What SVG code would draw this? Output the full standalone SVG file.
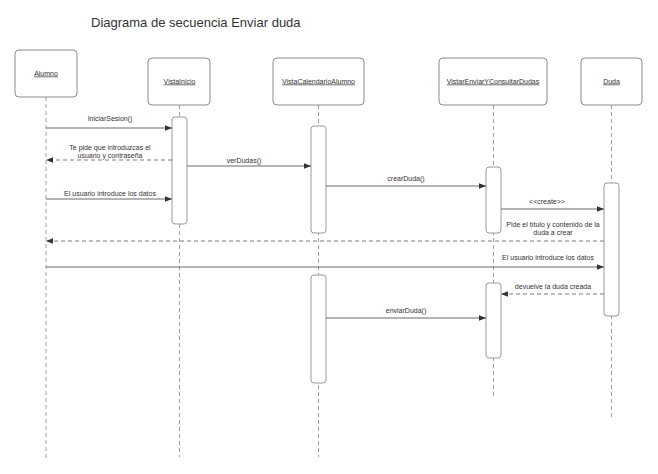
<svg xmlns="http://www.w3.org/2000/svg" width="658" height="474" viewBox="0 0 658 474">
<style>
.bg{fill:#fff}
.box{fill:#fff;stroke:#8c8c8c;stroke-width:1}
.act{fill:#fff;stroke:#9a9a9a;stroke-width:1}
.life{stroke:#a0a0a0;stroke-width:1;stroke-dasharray:4 3;fill:none}
.msg{stroke:#6a6a6a;stroke-width:1;fill:none}
.ret{stroke:#7a7a7a;stroke-width:1;stroke-dasharray:4 3;fill:none}
.lbl{font-family:"Liberation Sans",Arial,sans-serif;font-size:7px;fill:#333;text-anchor:middle}
.name{font-family:"Liberation Sans",Arial,sans-serif;font-size:7px;fill:#333;text-anchor:middle;text-decoration:underline}
.title{font-family:"Liberation Sans",Arial,sans-serif;font-size:13px;fill:#333}
</style>
<defs>
<marker id="ah" viewBox="0 0 10 10" refX="10" refY="5" markerWidth="7" markerHeight="7" markerUnits="userSpaceOnUse" orient="auto">
<path d="M0,1 L10,5 L0,9 z" fill="#333"/>
</marker>
</defs>
<rect class="bg" x="0" y="0" width="658" height="474"/>
<text class="title" x="91" y="27">Diagrama de secuencia Enviar duda</text>

<g id="lifelines">
<line class="life" x1="46" y1="97" x2="46" y2="458"/>
<line class="life" x1="179.5" y1="105" x2="179.5" y2="457"/>
<line class="life" x1="318.5" y1="105" x2="318.5" y2="457"/>
<line class="life" x1="493.5" y1="105" x2="493.5" y2="399"/>
<line class="life" x1="611.5" y1="105" x2="611.5" y2="417"/>
</g>

<g id="Alumno">
<rect class="box" x="15" y="50" width="62" height="47" rx="4"/>
<text class="name" x="46" y="75.5">Alumno</text>
</g>
<g id="VistaInicio">
<rect class="box" x="148" y="58" width="62" height="47" rx="4"/>
<text class="name" x="179.5" y="83.5">VistaInicio</text>
<rect class="act" x="172" y="117" width="15" height="107" rx="3"/>
</g>
<g id="VistaCalendarioAlumno">
<rect class="box" x="273" y="58" width="91" height="47" rx="4"/>
<text class="name" x="318.5" y="83.5">VistaCalendarioAlumno</text>
<rect class="act" x="311" y="126" width="15" height="107" rx="3"/>
<rect class="act" x="311" y="275" width="15" height="108" rx="3"/>
</g>
<g id="VistarEnviarYConsultarDudas">
<rect class="box" x="439" y="58" width="108" height="47" rx="4"/>
<text class="name" x="493" y="83.5">VistarEnviarYConsultarDudas</text>
<rect class="act" x="486" y="167" width="15" height="66" rx="3"/>
<rect class="act" x="486" y="283" width="15" height="75" rx="3"/>
</g>
<g id="Duda">
<rect class="box" x="581" y="58" width="61" height="47" rx="4"/>
<text class="name" x="611.5" y="83.5">Duda</text>
<rect class="act" x="604" y="183" width="15" height="133" rx="3"/>
</g>

<g id="connectors">
<line class="msg" x1="46" y1="128" x2="172" y2="128" marker-end="url(#ah)"/>
<text class="lbl" x="110" y="121">IniciarSesion()</text>

<line class="ret" x1="172" y1="160" x2="46" y2="160" marker-end="url(#ah)"/>
<text class="lbl" x="110" y="150">Te pide que introduzcas el</text>
<text class="lbl" x="110" y="158">usuario y contraseña</text>

<line class="msg" x1="187" y1="166" x2="311" y2="166" marker-end="url(#ah)"/>
<text class="lbl" x="244" y="163">verDudas()</text>

<line class="msg" x1="46" y1="199" x2="172" y2="199" marker-end="url(#ah)"/>
<text class="lbl" x="110" y="196">El usuario introduce los datos</text>

<line class="msg" x1="326" y1="186" x2="486" y2="186" marker-end="url(#ah)"/>
<text class="lbl" x="406" y="181">crearDuda()</text>

<line class="msg" x1="501" y1="209" x2="604" y2="209" marker-end="url(#ah)"/>
<text class="lbl" x="547" y="204">&lt;&lt;create&gt;&gt;</text>

<line class="ret" x1="604" y1="241" x2="46" y2="241" marker-end="url(#ah)"/>
<text class="lbl" x="553" y="227">Pide el título y contenido de la</text>
<text class="lbl" x="553" y="235">duda a crear</text>

<line class="msg" x1="46" y1="267" x2="604" y2="267" marker-end="url(#ah)"/>
<text class="lbl" x="548" y="260">El usuario introduce los datos</text>

<line class="ret" x1="604" y1="294" x2="501" y2="294" marker-end="url(#ah)"/>
<text class="lbl" x="553" y="289">devuelve la duda creada</text>

<line class="msg" x1="326" y1="318" x2="486" y2="318" marker-end="url(#ah)"/>
<text class="lbl" x="406" y="313">enviarDuda()</text>
</g>
</svg>
